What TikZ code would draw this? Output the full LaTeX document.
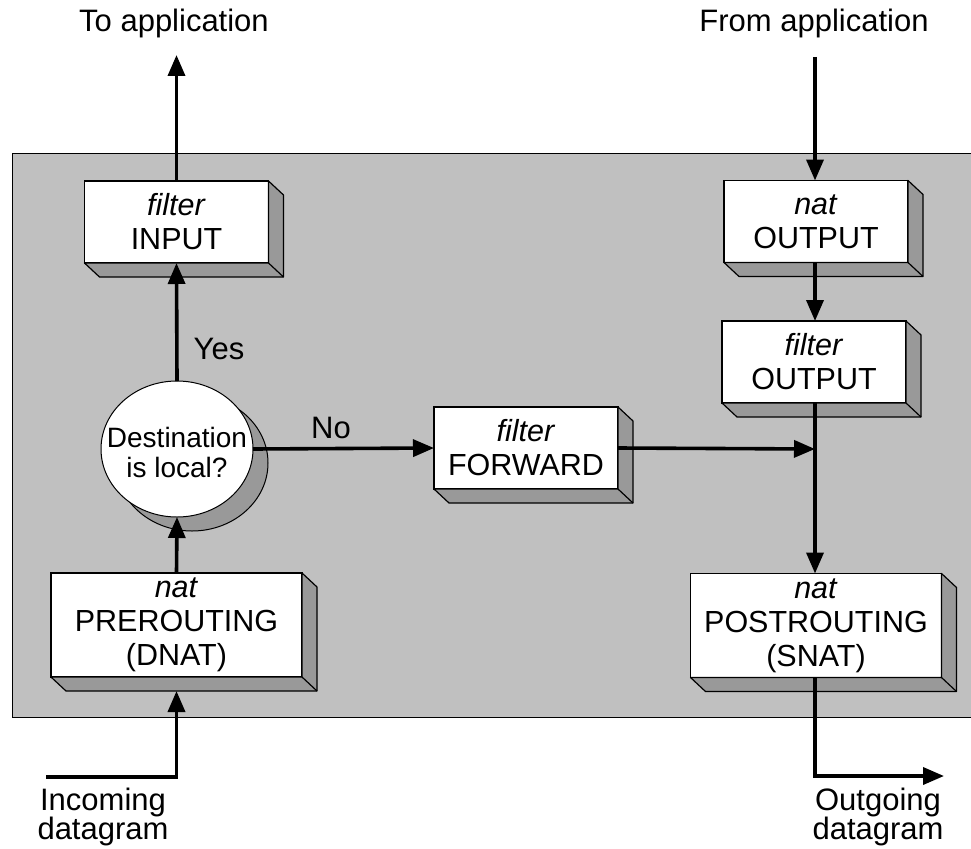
\documentclass[tikz,border=0pt]{standalone}
\usepackage{fontspec}
\setmainfont{Liberation Sans}
\usetikzlibrary{arrows.meta,calc,shapes.geometric}
\definecolor{bg}{RGB}{192,192,192}
\definecolor{side}{RGB}{153,153,153}
\newcommand\extrude[1]{%
  \filldraw[fill=side, line width=1.2pt, line join=round]
    (#1.north east) -- ($(#1.north east)+(15,14)$) -- ($(#1.south east)+(15,14)$)
    -- ($(#1.south west)+(15,14)$) -- (#1.south west) -- (#1.south east) -- cycle;
  \draw[line width=1.2pt] (#1.south east) -- ($(#1.south east)+(15,14)$);}
\begin{document}
\begin{tikzpicture}[x=1pt,y=-1pt,
  box/.style={draw, line width=1.5pt, fill=white, inner sep=0pt, outer sep=0pt,
    align=center, font=\fontsize{30.5}{34}\selectfont,
    minimum width=184pt, minimum height=82pt},
  bigbox/.style={box, minimum width=251pt, minimum height=104pt},
  conn/.style={line width=3.6pt, -{Triangle[length=21pt,width=17pt]}},
  lbl/.style={font=\fontsize{31}{34}\selectfont}]
\useasboundingbox (0,0) rectangle (971,848);
% background panel
\fill[bg] (12,153) rectangle (990,717);
\draw[line width=1pt] (990,153) -- (12,153) -- (12,717) -- (990,717);

% boxes
\node[box] (fin) at (176.5,222) {\textit{filter}\\INPUT};
\extrude{fin}
\node[box] (nout) at (816,221.5) {\textit{nat}\\OUTPUT};
\extrude{nout}
\node[box] (fout) at (814,362) {\textit{filter}\\OUTPUT};
\extrude{fout}
\node[box] (ffwd) at (526,448) {\textit{filter}\\FORWARD};
\extrude{ffwd}
\node[bigbox] (pre) at (176.5,625) {\textit{nat}\\PREROUTING\\(DNAT)};
\extrude{pre}
\node[bigbox] (post) at (816,625.5) {\textit{nat}\\POSTROUTING\\(SNAT)};
\extrude{post}

% decision
\filldraw[fill=side, line width=1pt] (192,463) ellipse [x radius=76, y radius=68];
\node[ellipse, draw, fill=white, line width=1pt, inner sep=0pt, outer sep=0pt,
  minimum width=152pt, minimum height=136pt] (dest) at (177,449) {};
\node[font=\fontsize{28}{30}\selectfont, align=center] (destt) at (177,452) {Destination\\is local?};

% external labels
\node[lbl, anchor=base] (toapp) at (174,32) {To application};
\node[lbl, anchor=base] (fromapp) at (814,32) {From application};
\node[lbl, anchor=base] (in1) at (103,810) {Incoming};
\node[lbl, anchor=base] (in2) at (103,839) {datagram};
\node[lbl, anchor=base] (out1) at (878,810) {Outgoing};
\node[lbl, anchor=base] (out2) at (878,839) {datagram};
\node[lbl, anchor=base] (yes) at (219,359) {Yes};
\node[lbl, anchor=base] (no) at (331,438) {No};

% connector end points
\coordinate (toapppt) at (176.5,55);
\coordinate (fromapppt) at (815,57);
\coordinate (inpt) at (46,777);
\coordinate (incorner) at (176.5,777);
\coordinate (prebot) at ($(pre.south)+(0,14)$);
\coordinate (join) at (815,449);
\coordinate (outcorner) at (815,776);
\coordinate (outpt) at (944,776);

% connectors
\draw[conn] (fin.north) -- (toapppt);
\draw[conn] (dest.north) -- (fin.south);
\draw[conn] (pre.north) -- (dest.south);
\draw[conn] (inpt) -- (incorner) -- (prebot);
\draw[conn] (fromapppt) -- (815,0 |- nout.north);
\draw[conn] (815,0 |- nout.south) -- (815,0 |- fout.north);
\draw[conn] (815,0 |- fout.south) -- (815,0 |- post.north);
\draw[conn] (dest.east) -- (ffwd.west);
\draw[conn] (ffwd.east) -- (join);
\draw[conn] (815,0 |- post.south) -- (outcorner) -- (outpt);
\end{tikzpicture}
\end{document}
